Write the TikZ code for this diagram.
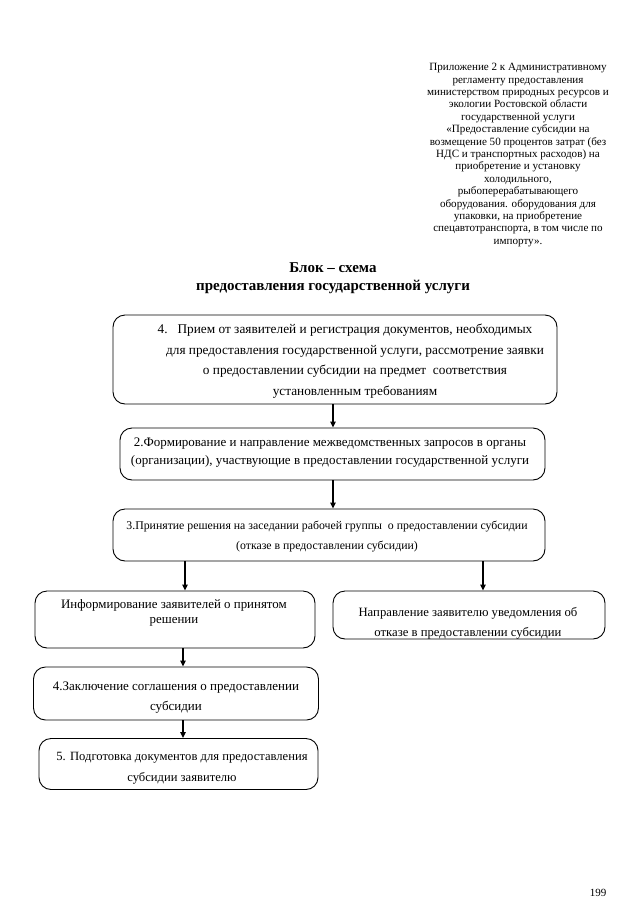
\documentclass[tikz,border=0pt]{standalone}
\usepackage{fontspec}
\setmainfont{Liberation Serif}
\usetikzlibrary{arrows.meta}
\begin{document}
\begin{tikzpicture}[x=1pt,y=-1pt,
  box/.style={draw, line width=0.9pt, rounded corners=12pt, inner sep=0pt},
  txt/.style={align=center, inner sep=0pt},
  arr/.style={line width=1.3pt, -{Triangle[length=6pt,width=5.5pt]}},
  note/.style={align=center, font=\fontsize{11.1}{12.4}\selectfont, inner sep=0pt}]
\useasboundingbox (0,0) rectangle (640,905);
\node[note] (hdr) at (518,155) {Приложение 2 к Административному\\
регламенту предоставления\\
министерством природных ресурсов и\\
экологии Ростовской области\\
государственной услуги\\
«Предоставление субсидии на\\
возмещение 50 процентов затрат (без\\
НДС и транспортных расходов) на\\
приобретение и установку\\
холодильного,\\
рыбоперерабатывающего\\
оборудования. оборудования для\\
упаковки, на приобретение\\
спецавтотранспорта, в том числе по\\
импорту».};
\node[txt, font=\bfseries\fontsize{15}{18}\selectfont] (title) at (333,278)
  {Блок – схема\\предоставления государственной услуги};
% boxes
\node[box, minimum width=444pt, minimum height=89pt] (b1) at (335,359.5) {};
\node[box, minimum width=425pt, minimum height=52pt] (b2) at (332.5,454) {};
\node[box, minimum width=432pt, minimum height=52pt] (b3) at (329,535) {};
\node[box, minimum width=280pt, minimum height=57pt] (b4) at (175,619.5) {};
\node[box, minimum width=272pt, minimum height=48pt] (b5) at (469,615) {};
\node[box, minimum width=285pt, minimum height=53pt] (b6) at (176,693.5) {};
\node[box, minimum width=279pt, minimum height=51pt] (b7) at (178.5,764) {};
% texts
\node[txt, font=\fontsize{13.3}{20.5}\selectfont] (t1) at (355,361)
  {4.\hspace{10pt}Прием от заявителей и регистрация документов, необходимых\hspace*{20pt}\\
  для предоставления государственной услуги, рассмотрение заявки\\
  о предоставлении субсидии на предмет\ \ соответствия\\
  установленным требованиям};
\node[txt, font=\fontsize{13}{18}\selectfont] (t2) at (330,453)
  {2.Формирование и направление межведомственных запросов в органы\\
  (организации), участвующие в предоставлении государственной услуги};
\node[txt, font=\fontsize{11.8}{20}\selectfont] (t3) at (327,537)
  {3.Принятие решения на заседании рабочей группы\ \ о предоставлении субсидии\\
  (отказе в предоставлении субсидии)};
\node[txt, font=\fontsize{12.9}{15}\selectfont] (t4) at (174,612.5)
  {Информирование заявителей о принятом\\решении};
\node[txt, font=\fontsize{12.7}{20}\selectfont] (t5) at (468,623)
  {Направление заявителю уведомления об\\отказе в предоставлении субсидии};
\node[txt, font=\fontsize{13}{20}\selectfont] (t6) at (176,698)
  {4.Заключение соглашения о предоставлении\\субсидии};
\node[txt, font=\fontsize{12.6}{21}\selectfont] (t7) at (182,768)
  {5. Подготовка документов для предоставления\\субсидии заявителю};
\node[inner sep=0pt, font=\fontsize{11}{13}\selectfont] (pg) at (598,893) {199};
% arrows
\draw[arr] (b1.south -| 333,0) -- (b2.north -| 333,0);
\draw[arr] (b2.south -| 333,0) -- (b3.north -| 333,0);
\coordinate (c1) at (185,590);
\coordinate (c2) at (483,590);
\draw[arr] (b3.south -| c1) -- (b4.north -| c1);
\draw[arr] (b3.south -| c2) -- (b5.north -| c2);
\draw[arr] (b4.south -| 183,0) -- (b6.north -| 183,0);
\draw[arr] (b6.south -| 183,0) -- (b7.north -| 183,0);
\end{tikzpicture}
\end{document}
